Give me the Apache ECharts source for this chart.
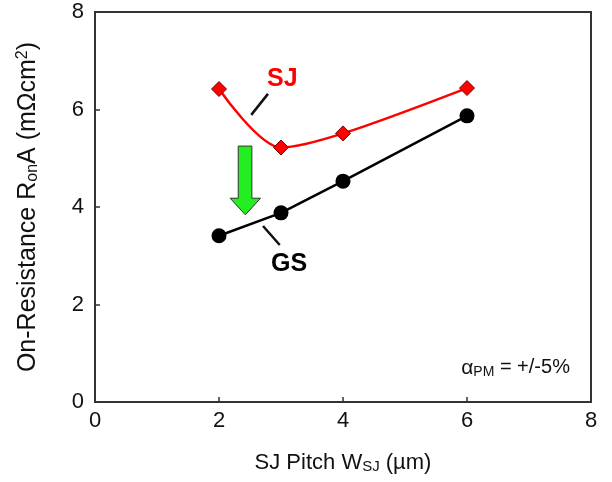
<!DOCTYPE html>
<html>
<head>
<meta charset="utf-8">
<script src="https://cdn.jsdelivr.net/npm/echarts@6/dist/echarts.min.js"></script>
<style>html,body{margin:0;padding:0;background:#fff}#c{width:612px;height:482px}</style>
</head>
<body>
<div id="c"></div>
<script>
// ---- data ----
var pitch = [2, 3, 4, 6];
var sjValues = [6.42, 5.22, 5.51, 6.44];
var gsValues = [3.41, 3.88, 4.53, 5.87];
var xTicks = [0, 2, 4, 6, 8];
var yTicks = [0, 2, 4, 6, 8];

var FONT = '"Liberation Sans", Arial, sans-serif';
var chart = echarts.init(document.getElementById('c'), null, {renderer: 'canvas'});

function pairs(xs, ys) { return xs.map(function (x, i) { return [x, ys[i]]; }); }

var option = {
  animation: false,
  backgroundColor: '#fff',
  grid: {left: 95, top: 12, right: 21, bottom: 80, show: true, borderColor: '#333', borderWidth: 2, backgroundColor: 'transparent'},
  xAxis: {
    type: 'value', min: xTicks[0], max: xTicks[xTicks.length - 1], interval: 2,
    axisLine: {lineStyle: {color: '#333', width: 2}},
    axisTick: {inside: true, length: 5, lineStyle: {color: '#333', width: 1.5}},
    axisLabel: {color: '#111', fontSize: 22, fontFamily: FONT, margin: 8},
    splitLine: {show: false},
    name: '{n|SJ Pitch W}{s|SJ}{n| (µm)}',
    nameLocation: 'middle', nameGap: 49,
    nameTextStyle: {rich: {
      n: {fontSize: 22, fontFamily: FONT, color: '#111'},
      s: {fontSize: 15, fontFamily: FONT, color: '#111', verticalAlign: 'bottom', padding: [8, 0, 0, 0]}
    }}
  },
  yAxis: {
    type: 'value', min: yTicks[0], max: yTicks[yTicks.length - 1], interval: 2,
    axisLine: {lineStyle: {color: '#333', width: 2}},
    axisTick: {inside: true, length: 5, lineStyle: {color: '#333', width: 1.5}},
    axisLabel: {color: '#111', fontSize: 22, fontFamily: FONT, margin: 11},
    splitLine: {show: false},
    name: '{n|On-Resistance R}{s|on}{n|A (mΩcm}{p|2}{n|)}',
    nameLocation: 'middle', nameGap: 54, nameRotate: 90,
    nameTextStyle: {rich: {
      n: {fontSize: 25, fontFamily: FONT, color: '#111'},
      s: {fontSize: 16, fontFamily: FONT, color: '#111', padding: [10, 0, 0, 0]},
      p: {fontSize: 16, fontFamily: FONT, color: '#111', padding: [0, 0, 10, 0]}
    }}
  },
  series: [
    {
      name: 'SJ', type: 'line', data: pairs(pitch, sjValues), smooth: 0.3,
      symbol: 'diamond', symbolSize: 15,
      lineStyle: {color: '#ff0000', width: 2.5},
      itemStyle: {color: '#ff0000', borderColor: '#7a0000', borderWidth: 1},
      z: 3
    },
    {
      name: 'GS', type: 'line', data: pairs(pitch, gsValues), smooth: false,
      symbol: 'circle', symbolSize: 15,
      lineStyle: {color: '#000', width: 2.5},
      itemStyle: {color: '#000'},
      z: 3
    }
  ]
};
chart.setOption(option);

// annotation anchors in data space
var sjLeader = [[2.52, 5.89], [2.79, 6.32]];
var sjLabelAt = [3.02, 6.63];
var gsLeader = [[2.71, 3.61], [2.98, 3.22]];
var gsLabelAt = [3.13, 2.83];
var noteAt = [7.66, 0.70];
// green arrow (data space): shaft x range, head x range, top, head base, tip
var arrowShaft = [2.31, 2.53];
var arrowHead = [2.18, 2.67];
var arrowY = [5.25, 4.18, 3.84];

function px(p) { return chart.convertToPixel({gridIndex: 0}, p); }

var a1 = px([arrowShaft[0], arrowY[0]]), a2 = px([arrowShaft[1], arrowY[0]]);
var b1 = px([arrowShaft[1], arrowY[1]]), h1 = px([arrowHead[1], arrowY[1]]);
var tip = px([(arrowHead[0] + arrowHead[1]) / 2, arrowY[2]]);
var h0 = px([arrowHead[0], arrowY[1]]), b0 = px([arrowShaft[0], arrowY[1]]);

var s0 = px(sjLeader[0]), s1 = px(sjLeader[1]);
var g0 = px(gsLeader[0]), g1 = px(gsLeader[1]);
var sl = px(sjLabelAt), gl = px(gsLabelAt), nt = px(noteAt);

chart.setOption({
  graphic: [
    {type: 'polygon', shape: {points: [a1, a2, b1, h1, tip, h0, b0]},
     style: {fill: '#22ee22', stroke: '#333', lineWidth: 1}, z: 10},
    {type: 'line', shape: {x1: s0[0], y1: s0[1], x2: s1[0], y2: s1[1]}, style: {stroke: '#111', lineWidth: 2.5}, z: 10},
    {type: 'line', shape: {x1: g0[0], y1: g0[1], x2: g1[0], y2: g1[1]}, style: {stroke: '#111', lineWidth: 2.5}, z: 10},
    {type: 'text', x: sl[0], y: sl[1], style: {text: 'SJ', fill: '#ff0000', font: 'bold 25px ' + FONT, align: 'center', verticalAlign: 'middle'}, z: 10},
    {type: 'text', x: gl[0], y: gl[1], style: {text: 'GS', fill: '#000', font: 'bold 25px ' + FONT, align: 'center', verticalAlign: 'middle'}, z: 10},
    {type: 'text', x: nt[0], y: nt[1], style: {
      text: '{a|α}{s|PM}{n| = +/-5%}', align: 'right', verticalAlign: 'middle',
      rich: {
        a: {fontSize: 21, fontFamily: FONT, fill: '#111'},
        s: {fontSize: 14, fontFamily: FONT, fill: '#111', padding: [8, 0, 0, 0]},
        n: {fontSize: 20, fontFamily: FONT, fill: '#111'}
      }}, z: 10}
  ]
});
</script>
</body>
</html>
